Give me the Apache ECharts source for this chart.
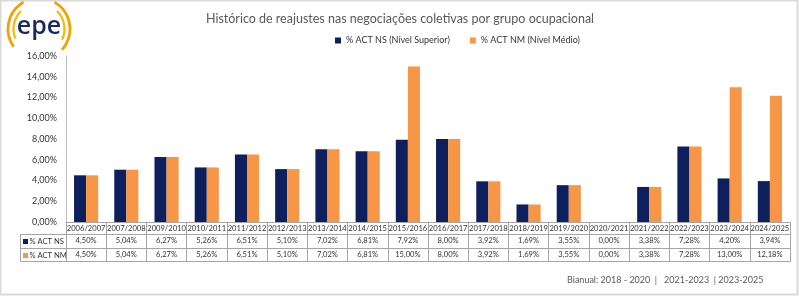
<!DOCTYPE html>
<html>
<head>
<meta charset="utf-8">
<script src="https://cdn.jsdelivr.net/npm/echarts@6/dist/echarts.min.js"></script>
<style>
html,body{margin:0;padding:0;background:#fff;}
#c{width:800px;height:297px;}
</style>
</head>
<body>
<div id="c"></div>
<script>
const categories = ['2006/2007','2007/2008','2009/2010','2010/2011','2011/2012','2012/2013','2013/2014','2014/2015','2015/2016','2016/2017','2017/2018','2018/2019','2019/2020','2020/2021','2021/2022','2022/2023','2023/2024','2024/2025'];
const actNS = [4.50,5.04,6.27,5.26,6.51,5.10,7.02,6.81,7.92,8.00,3.92,1.69,3.55,0.00,3.38,7.28,4.20,3.94];
const actNM = [4.50,5.04,6.27,5.26,6.51,5.10,7.02,6.81,15.00,8.00,3.92,1.69,3.55,0.00,3.38,7.28,13.00,12.18];
const seriesNames = ['% ACT NS (Nível Superior)','% ACT NM (Nível Médio)'];
const rowNames = ['% ACT NS','% ACT NM'];
const titleText = 'Histórico de reajustes nas negociações coletivas por grupo ocupacional';
const footerText = 'Bianual: 2018 - 2020  |   2021-2023  | 2023-2025';

const NAVY = '#0d1f5c', ORANGE = '#f79646', LINE = '#a6a6a6', TXT = '#333333';
const FONT = 'Lato';
const fmt = v => v.toFixed(2).replace('.', ',') + '%';

const chart = echarts.init(document.getElementById('c'));

function tableAxis(offset, formatter, showLabel, showTick) {
  return {
    type: 'category', data: categories, position: 'bottom', offset: offset,
    axisLine: {show: true, lineStyle: {color: LINE, width: 1}},
    axisTick: {show: showTick, interval: 0, length: offset === 0 ? 12 : 14, lineStyle: {color: LINE}},
    axisLabel: {show: showLabel, interval: 0, margin: 3, fontSize: 7.6, color: TXT, fontFamily: FONT, formatter: formatter},
    splitLine: {show: false}
  };
}

const option = {
  animation: false,
  textStyle: {fontFamily: FONT},
  title: {
    text: titleText, left: 'center', top: 7,
    textStyle: {fontSize: 12.5, fontWeight: 'normal', color: '#595959', fontFamily: FONT}
  },
  legend: {
    left: 330, top: 31, itemWidth: 6, itemHeight: 6, itemGap: 20, icon: 'rect',
    textStyle: {fontSize: 9, color: TXT, fontFamily: FONT},
    data: seriesNames
  },
  grid: {left: 66, right: 10, top: 56, bottom: 75},
  xAxis: [
    tableAxis(0, v => v, true, true),
    tableAxis(12, (v, i) => fmt(actNS[i]), true, true),
    tableAxis(26, (v, i) => fmt(actNM[i]), true, true),
    tableAxis(39, v => v, false, false)
  ],
  yAxis: {
    type: 'value', min: 0, max: 16, interval: 2,
    axisLine: {show: true, lineStyle: {color: '#bfbfbf'}},
    axisTick: {show: false},
    splitLine: {show: false},
    axisLabel: {fontSize: 9, color: TXT, margin: 9, fontFamily: FONT, formatter: v => fmt(v)}
  },
  series: [
    {name: seriesNames[0], type: 'bar', data: actNS, itemStyle: {color: NAVY}, barGap: '0%', barCategoryGap: '40%', xAxisIndex: 0},
    {name: seriesNames[1], type: 'bar', data: actNM, itemStyle: {color: ORANGE}, barGap: '0%', barCategoryGap: '40%', xAxisIndex: 0}
  ],
  graphic: [
    {type: 'rect', shape: {x: 0.5, y: 0.5, width: 797, height: 294}, style: {fill: null, stroke: '#d9d9d9', lineWidth: 2}, silent: true},
    // row label cells
    {type: 'polyline', shape: {points: [[66, 234.5], [20.5, 234.5], [20.5, 261.5], [66, 261.5]]}, style: {stroke: LINE, fill: null, lineWidth: 1}},
    {type: 'line', shape: {x1: 20.5, y1: 248.5, x2: 66, y2: 248.5}, style: {stroke: LINE, lineWidth: 1}},
    {type: 'rect', shape: {x: 23, y: 239, width: 5, height: 5}, style: {fill: NAVY}},
    {type: 'text', x: 29.5, y: 241.5, style: {text: rowNames[0], fontSize: 7.6, fill: TXT, fontFamily: FONT, verticalAlign: 'middle'}},
    {type: 'rect', shape: {x: 23, y: 253, width: 5, height: 5}, style: {fill: ORANGE}},
    {type: 'text', x: 29.5, y: 255.5, style: {text: rowNames[1], fontSize: 7.6, fill: TXT, fontFamily: FONT, verticalAlign: 'middle'}},
    // footer
    {type: 'text', x: 567, y: 280, style: {text: footerText, fontSize: 9, fill: '#595959', fontFamily: FONT, verticalAlign: 'middle'}},
    // logo
    {type: 'arc', shape: {cx: 39, cy: 29, r: 31, startAngle: Math.PI * 145 / 180, endAngle: Math.PI * 240 / 180, clockwise: true}, style: {stroke: '#f4a000', lineWidth: 2.8, fill: null}},
    {type: 'arc', shape: {cx: 39, cy: 29, r: 25.5, startAngle: Math.PI * 158 / 180, endAngle: Math.PI * 225 / 180, clockwise: true}, style: {stroke: '#f8b800', lineWidth: 2.2, fill: null}},
    {type: 'arc', shape: {cx: 39, cy: 29, r: 31, startAngle: Math.PI * -60 / 180, endAngle: Math.PI * 42 / 180, clockwise: true}, style: {stroke: '#f4a000', lineWidth: 2.8, fill: null}},
    {type: 'arc', shape: {cx: 39, cy: 29, r: 25.5, startAngle: Math.PI * -45 / 180, endAngle: Math.PI * 25 / 180, clockwise: true}, style: {stroke: '#f8b800', lineWidth: 2.2, fill: null}},
    {type: 'text', x: 39, y: 27, style: {text: 'epe', fontSize: 25, fontWeight: 600, fill: '#1b2a5e', fontFamily: 'Open Sans', align: 'center', verticalAlign: 'middle'}}
  ]
};
chart.setOption(option);
</script>
</body>
</html>
